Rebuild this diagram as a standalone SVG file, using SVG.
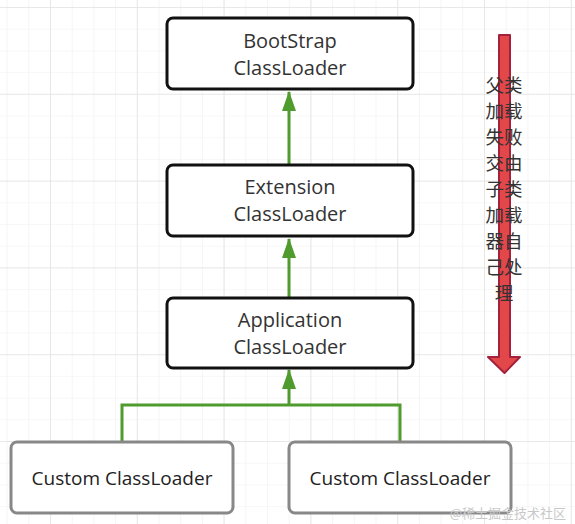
<svg xmlns="http://www.w3.org/2000/svg" width="575" height="524" viewBox="0 0 575 524">
<defs>
<pattern id="minor" x="6.6" y="7" width="21.7" height="21.7" patternUnits="userSpaceOnUse">
<path d="M0 0 H21.7 M0 0 V21.7" fill="none" stroke="#efefef" stroke-width="1.2"/>
</pattern>
<pattern id="major" x="50" y="7" width="86.8" height="86.8" patternUnits="userSpaceOnUse">
<path d="M0 0 H86.8 M0 0 V86.8" fill="none" stroke="#e4e4e4" stroke-width="1.6"/>
</pattern>
<marker id="ah" viewBox="0 0 20 14" refX="19" refY="7" markerWidth="20" markerHeight="14" markerUnits="userSpaceOnUse" orient="auto">
<path d="M0 0 L20 7 L0 14 Z" fill="#4f9b2d"/>
</marker>
<style>
.box{fill:#fff;stroke:#111;stroke-width:3}
.cbox{fill:#fff;stroke:#888;stroke-width:3}
.t{font-family:"Open Sans","Noto Sans",sans-serif;font-size:20px;fill:#333;text-anchor:middle}
.ct{font-family:"Open Sans","Noto Sans",sans-serif;font-size:19px;fill:#222;text-anchor:middle}
.c{stroke:#4f9b2d;stroke-width:3;fill:none}
.zh{font-family:"Noto Sans CJK SC",sans-serif;font-size:18.5px;fill:#333;text-anchor:middle}
</style>
</defs>
<rect width="575" height="524" fill="#fff"/>
<rect width="575" height="524" fill="url(#minor)"/>
<rect width="575" height="524" fill="url(#major)"/>

<g id="connectors">
<line class="c" x1="289" y1="165" x2="289" y2="92" marker-end="url(#ah)"/>
<line class="c" x1="289" y1="298" x2="289" y2="239" marker-end="url(#ah)"/>
<line class="c" x1="289" y1="405" x2="289" y2="370" marker-end="url(#ah)"/>
<polyline class="c" points="122,442 122,405 400,405 400,442"/>
</g>

<g id="bootstrap">
<rect class="box" x="167" y="18" width="246" height="71" rx="6"/>
<text class="t" x="290" y="48">BootStrap</text>
<text class="t" x="290" y="75">ClassLoader</text>
</g>
<g id="extension">
<rect class="box" x="167" y="165" width="246" height="71" rx="6"/>
<text class="t" x="290" y="194">Extension</text>
<text class="t" x="290" y="221">ClassLoader</text>
</g>
<g id="application">
<rect class="box" x="167" y="298" width="246" height="70" rx="6"/>
<text class="t" x="290" y="327">Application</text>
<text class="t" x="290" y="354">ClassLoader</text>
</g>
<g id="custom1">
<rect class="cbox" x="11" y="442" width="222" height="71" rx="6"/>
<text class="ct" x="122" y="485">Custom ClassLoader</text>
</g>
<g id="custom2">
<rect class="cbox" x="289" y="442" width="222" height="71" rx="6"/>
<text class="ct" x="400" y="485">Custom ClassLoader</text>
</g>

<g id="red-arrow">
<path d="M499 35 H510 V357 H520 L504.5 373 L488 357 H499 Z" fill="#e2474a" stroke="#a3213d" stroke-width="2" stroke-linejoin="round"/>
<text class="zh" x="504" y="92"><tspan x="504" dy="0">父类</tspan><tspan x="504" dy="26">加载</tspan><tspan x="504" dy="26">失败</tspan><tspan x="504" dy="26">交由</tspan><tspan x="504" dy="26">子类</tspan><tspan x="504" dy="26">加载</tspan><tspan x="504" dy="26">器自</tspan><tspan x="504" dy="26">己处</tspan><tspan x="504" dy="26">理</tspan></text>
</g>
<text x="566" y="518" font-family="'Noto Sans CJK SC',sans-serif" font-size="13" fill="#c8c8c8" text-anchor="end">@稀土掘金技术社区</text>
</svg>
